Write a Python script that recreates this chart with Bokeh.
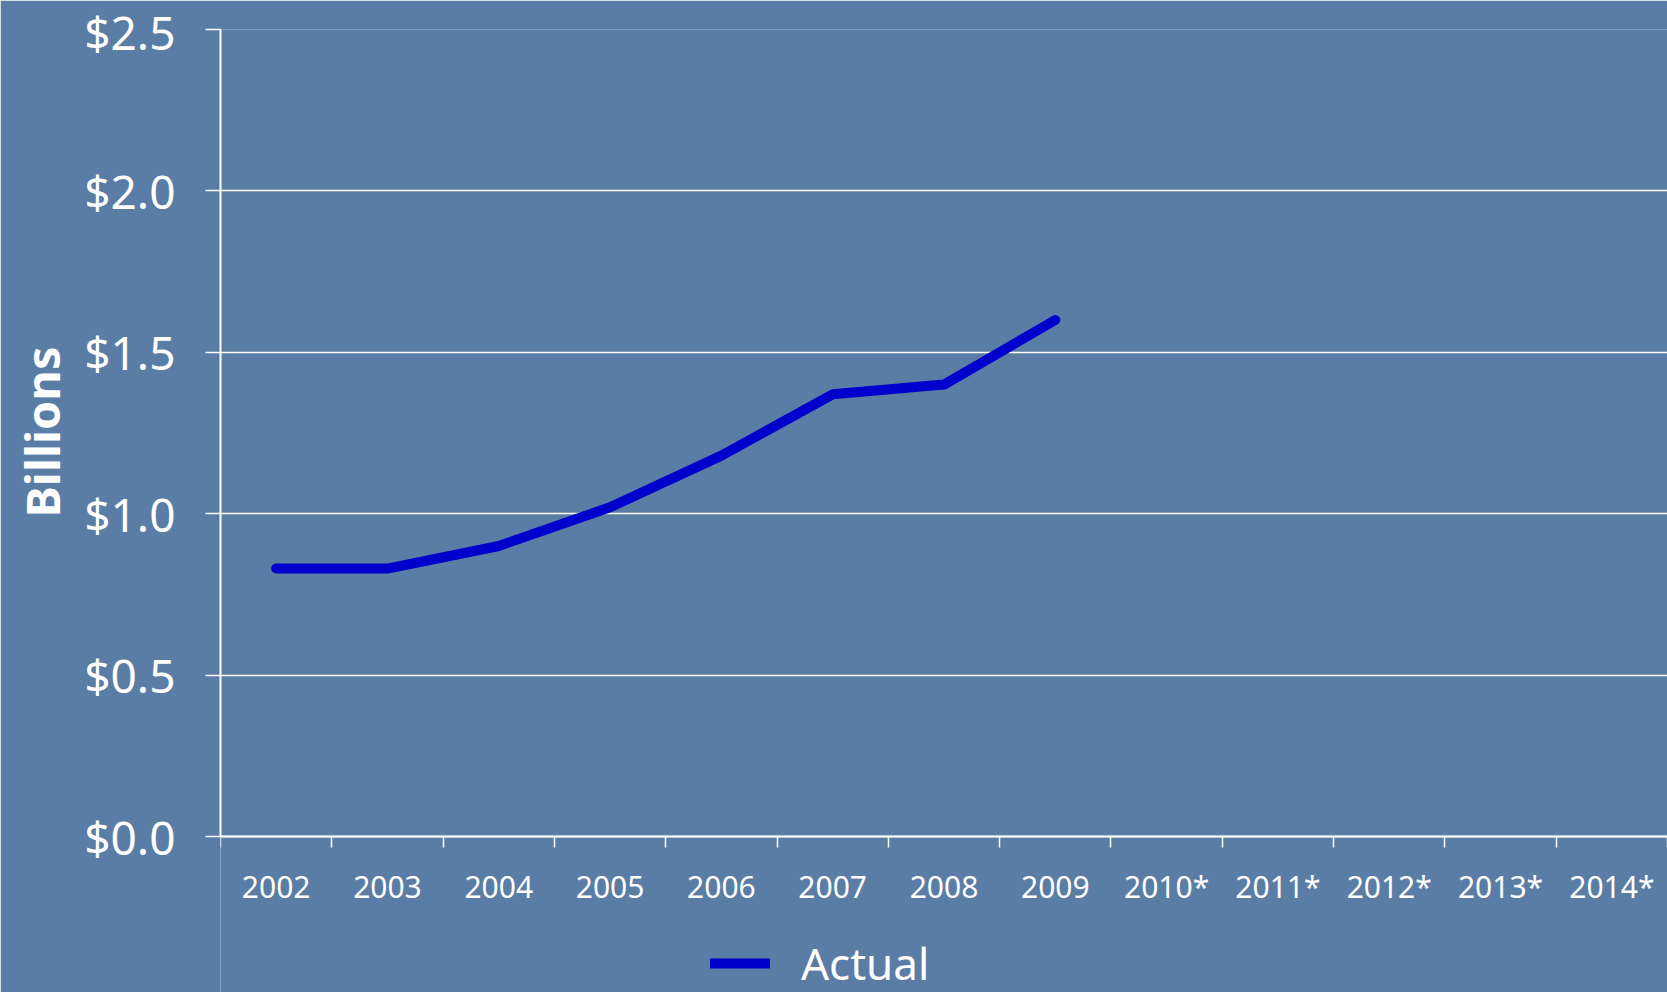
from bokeh.plotting import figure
from bokeh.models import (FixedTicker, Range1d, Legend, LegendItem, Title,
                          NumeralTickFormatter, CustomJSTickFormatter, ColumnDataSource)
from bokeh.embed import file_html
from bokeh.resources import INLINE

# ---- data ----
years = ["2002", "2003", "2004", "2005", "2006", "2007", "2008", "2009",
         "2010*", "2011*", "2012*", "2013*", "2014*"]
actual = [0.83, 0.83, 0.90, 1.02, 1.18, 1.37, 1.40, 1.60]
y_ticks = [0.0, 0.5, 1.0, 1.5, 2.0, 2.5]
series_name = "Actual"
y_title = "Billions"

BG = "#5a7da5"
FONT = "Noto Sans"
LINE = "#0000cc"

W, H = 1667, 992
TOP, LEFT = 29, 220
AXIS_Y = 836  # pixel row of the $0.0 baseline
y_max = 2.5
y_min = -(H - AXIS_Y) / (AXIS_Y - TOP) * y_max  # room below the axis for labels/legend

src = ColumnDataSource(dict(x=[i + 0.5 for i in range(len(actual))], y=actual))

p = figure(width=W, height=H, output_backend="svg", toolbar_location=None,
           x_range=Range1d(0, len(years)), y_range=Range1d(y_min, y_max),
           min_border_left=LEFT, min_border_top=TOP, min_border_right=0,
           min_border_bottom=0,
           background_fill_color=BG, border_fill_color=BG,
           outline_line_color=None)

# grid
p.xgrid.grid_line_color = None
p.ygrid.ticker = FixedTicker(ticks=y_ticks)
p.ygrid.grid_line_color = "white"
p.ygrid.grid_line_width = 1.5

# y axis
ya = p.yaxis[0]
ya.ticker = FixedTicker(ticks=y_ticks)
ya.bounds = (0, y_max)
ya.formatter = NumeralTickFormatter(format="$0.0")
ya.axis_line_color = "white"
ya.axis_line_width = 2
ya.major_tick_line_color = "white"
ya.major_tick_line_width = 1.5
ya.major_tick_out = 15
ya.major_tick_in = 0
ya.minor_tick_line_color = None
ya.major_label_standoff = 30
ya.major_label_text_color = "white"
ya.major_label_text_font = FONT
ya.major_label_text_font_size = "46px"

# vertical axis title, placed beside the 0..2.5 span
p.add_layout(Title(text=y_title, align="right", offset=317, standoff=15,
                   vertical_align="bottom",
                   text_color="white", text_font=FONT, text_font_style="bold",
                   text_font_size="47px"), "left")

# x axis, pinned at y = 0
xa = p.xaxis[0]
xa.fixed_location = 0
xa.ticker = FixedTicker(ticks=[i + 0.5 for i in range(len(years))],
                        minor_ticks=list(range(len(years) + 1)))
xa.formatter = CustomJSTickFormatter(args=dict(labels=years),
                                     code="return labels[Math.floor(tick)] || ''")
xa.axis_line_color = "white"
xa.axis_line_width = 2
xa.major_tick_line_color = None
xa.major_tick_out = 0
xa.major_tick_in = 0
xa.minor_tick_line_color = "white"
xa.minor_tick_line_width = 1.5
xa.minor_tick_out = 11
xa.minor_tick_in = 0
xa.major_label_standoff = 18
xa.major_label_text_color = "white"
xa.major_label_text_font = FONT
xa.major_label_text_font_size = "30px"

r = p.line("x", "y", source=src, line_color=LINE, line_width=10,
           line_cap="round", line_join="round")

legend = Legend(items=[LegendItem(label=series_name, renderers=[r])],
                location=(490, -1), orientation="horizontal",
                glyph_width=60, glyph_height=60, label_height=60,
                label_standoff=31, padding=0, margin=0,
                border_line_color=None, background_fill_alpha=0,
                label_text_color="white", label_text_font=FONT,
                label_text_font_size="44px")
p.add_layout(legend, "center")

open("out.html", "w").write(file_html(p, INLINE))
